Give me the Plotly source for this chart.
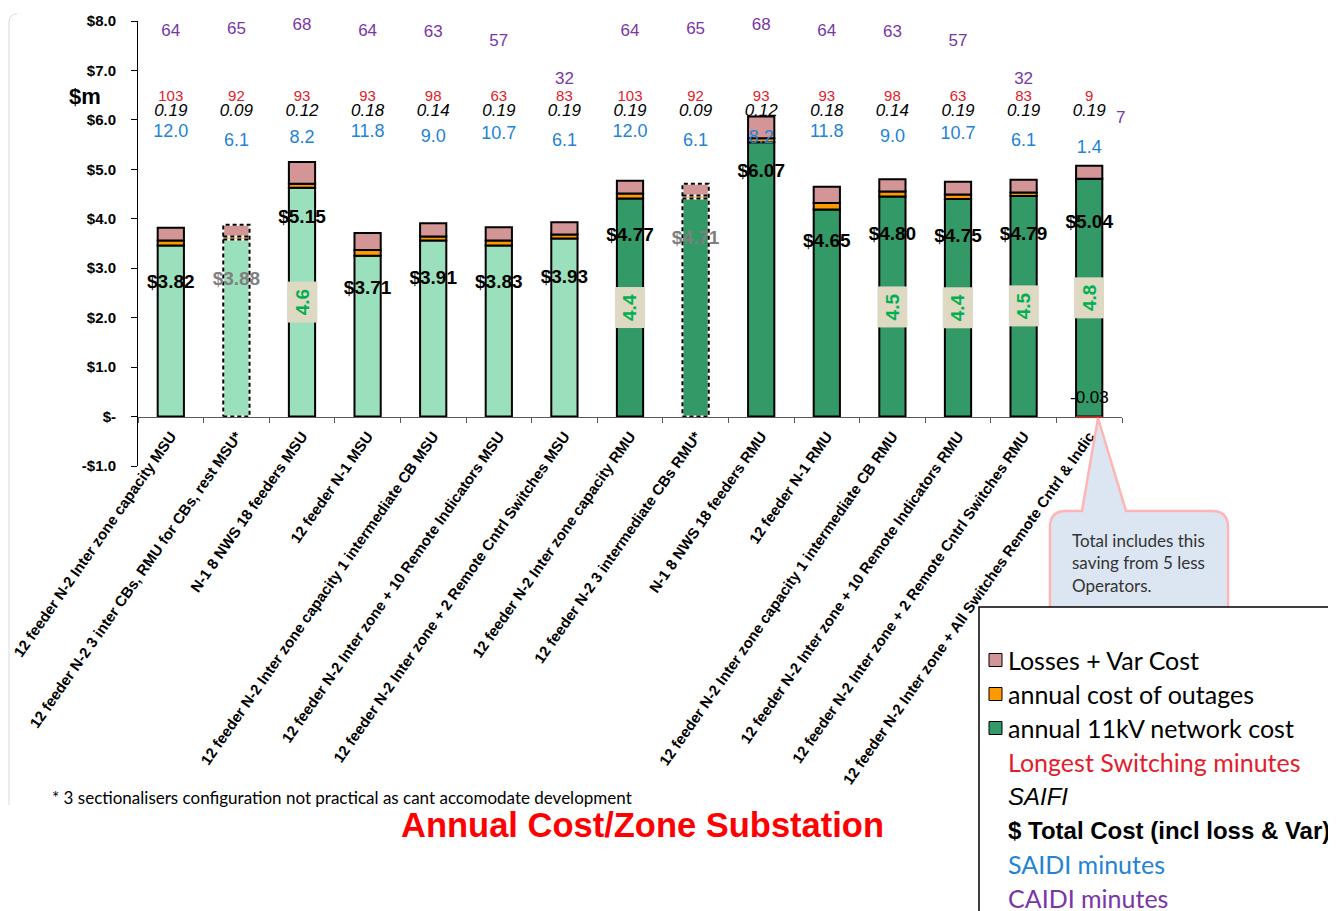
import plotly.graph_objects as go

# ---------------- data ----------------
categories = [
    "12 feeder N-2 Inter zone capacity MSU",
    "12 feeder N-2 3 inter CBs, RMU for CBs, rest MSU*",
    "N-1 8 NWS 18 feeders MSU",
    "12 feeder N-1 MSU",
    "12 feeder N-2 Inter zone capacity 1 intermediate CB MSU",
    "12 feeder N-2 Inter zone + 10 Remote Indicators MSU",
    "12 feeder N-2 Inter zone + 2 Remote Cntrl Switches MSU",
    "12 feeder N-2 Inter zone capacity RMU",
    "12 feeder N-2 3 intermediate CBs RMU*",
    "N-1 8 NWS 18 feeders RMU",
    "12 feeder N-1 RMU",
    "12 feeder N-2 Inter zone capacity 1 intermediate CB RMU",
    "12 feeder N-2 Inter zone + 10 Remote Indicators RMU",
    "12 feeder N-2 Inter zone + 2 Remote Cntrl Switches RMU",
    "12 feeder N-2 Inter zone + All Switches Remote Cntrl & Indic",
]
network_cost = [3.46, 3.58, 4.63, 3.25, 3.56, 3.46, 3.60, 4.41, 4.41, 5.55, 4.19, 4.45, 4.40, 4.46, 4.81]
outage_cost = [0.10, 0.06, 0.08, 0.12, 0.08, 0.10, 0.08, 0.10, 0.06, 0.08, 0.13, 0.10, 0.09, 0.07, 0.00]
losses_var = [0.26, 0.24, 0.44, 0.34, 0.27, 0.27, 0.25, 0.26, 0.24, 0.44, 0.33, 0.25, 0.26, 0.26, 0.26]
operator_saving = [0, 0, 0, 0, 0, 0, 0, 0, 0, 0, 0, 0, 0, 0, -0.03]
total_cost = [3.82, 3.88, 5.15, 3.71, 3.91, 3.83, 3.93, 4.77, 4.71, 6.07, 4.65, 4.80, 4.75, 4.79, 5.04]
switch_minutes = [103, 92, 93, 93, 98, 63, 83, 103, 92, 93, 93, 98, 63, 83, 9]
saifi = [0.19, 0.09, 0.12, 0.18, 0.14, 0.19, 0.19, 0.19, 0.09, 0.12, 0.18, 0.14, 0.19, 0.19, 0.19]
saidi = [12.0, 6.1, 8.2, 11.8, 9.0, 10.7, 6.1, 12.0, 6.1, 8.2, 11.8, 9.0, 10.7, 6.1, 1.4]
caidi = [64, 65, 68, 64, 63, 57, 32, 64, 65, 68, 64, 63, 57, 32, 7]
network_label = ["", "", "4.6", "", "", "", "", "4.4", "", "", "", "4.5", "4.4", "4.5", "4.8"]
impractical = [1, 8]          # dashed-outline configurations
rmu_start = 7                 # first RMU configuration
y_tickvals = [-1, 0, 1, 2, 3, 4, 5, 6, 7, 8]
y_ticktext = ["-$1.0", "$-", "$1.0", "$2.0", "$3.0", "$4.0", "$5.0", "$6.0", "$7.0", "$8.0"]

# ---------------- styles ----------------
LIGHT_GREEN = "#9be0bc"
DARK_GREEN = "#339966"
ORANGE = "#ff9900"
PINK = "#d39595"
RED = "#ff0000"
SW_RED = "#e3202a"
SAIDI_BLUE = "#2383d6"
CAIDI_PURPLE = "#7a35a8"
ARIAL = "Liberation Sans"
CALIBRI = "Lato"

PAGE_OFF = 8                      # default page body margin
FIG_W, FIG_H = 1336 - PAGE_OFF, 911 - PAGE_OFF
PLOT_L, PLOT_T, PLOT_R, PLOT_B = 138, 21, 1122, 466   # in page pixels
ML, MT = PLOT_L - PAGE_OFF, PLOT_T - PAGE_OFF
MR, MB = FIG_W + PAGE_OFF - PLOT_R, FIG_H + PAGE_OFF - PLOT_B
PW, PH = PLOT_R - PLOT_L, PLOT_B - PLOT_T
Y_MIN, Y_MAX = -1.0, 8.0
BAR_W = 0.4
ROW_SWITCH = 6.45
ROW_SAIFI = 6.16
CAIDI_RANGE = [-223.8, 70.9]
SAIDI_RANGE = [-208.8, 85.9]
TOTAL_SHIFT = 1.133


def pxx(px):
    return (px - PLOT_L) / PW


def pxy(py):
    return (PLOT_B - py) / PH


N = len(categories)
xs = list(range(N))
line_w = [0 if i in impractical else 2 for i in xs]
green_colors = [LIGHT_GREEN if i < rmu_start else DARK_GREEN for i in xs]

fig = go.Figure()
fig.add_bar(x=xs, y=network_cost, width=BAR_W, name="annual 11kV network cost",
            marker=dict(color=green_colors, line=dict(color="black", width=line_w)))
fig.add_bar(x=xs, y=outage_cost, width=BAR_W, name="annual cost of outages",
            marker=dict(color=ORANGE, line=dict(color="black", width=line_w)))
fig.add_bar(x=xs, y=losses_var, width=BAR_W, name="Losses + Var Cost",
            marker=dict(color=PINK, line=dict(color="black", width=line_w)))
fig.add_bar(x=xs, y=operator_saving, width=BAR_W, name="Operator saving",
            marker=dict(color=RED, line=dict(width=0)))

# dashed outlines for impractical configurations
ox, oy = [], []
for i in impractical:
    x0, x1 = i - BAR_W / 2, i + BAR_W / 2
    g = network_cost[i]
    go_ = g + outage_cost[i]
    top = go_ + losses_var[i]
    ox += [x0, x1, x1, x0, x0, None, x0, x1, None, x0, x1, None]
    oy += [0, 0, top, top, 0, None, g, g, None, go_, go_, None]
fig.add_scatter(x=ox, y=oy, mode="lines", line=dict(color="white", width=2), hoverinfo="skip")
fig.add_scatter(x=ox, y=oy, mode="lines", line=dict(color="black", width=2, dash="4px,3px"),
                hoverinfo="skip")

# text rows
fig.add_scatter(x=xs, y=[ROW_SWITCH] * N, mode="text", text=[str(v) for v in switch_minutes],
                textfont=dict(family=ARIAL, size=15, color=SW_RED), cliponaxis=False)
fig.add_scatter(x=xs, y=[ROW_SAIFI] * N, mode="text", text=[f"{v:.2f}" for v in saifi],
                textfont=dict(family=ARIAL, size=17, color="black", style="italic"),
                cliponaxis=False)
fig.add_scatter(x=xs, y=saidi, yaxis="y3", mode="text", text=[f"{v:.1f}" for v in saidi],
                textfont=dict(family=ARIAL, size=18, color=SAIDI_BLUE), cliponaxis=False)
fig.add_scatter(x=xs[:-1], y=caidi[:-1], yaxis="y2", mode="text",
                text=[str(v) for v in caidi[:-1]],
                textfont=dict(family=ARIAL, size=17, color=CAIDI_PURPLE), cliponaxis=False)
fig.add_scatter(x=xs, y=total_cost, yaxis="y4", mode="text",
                text=[f"${v:.2f}" for v in total_cost],
                textfont=dict(family=ARIAL, size=19, weight="bold",
                              color=["#7f7f7f" if i in impractical else "black" for i in xs]),
                cliponaxis=False)

annotations = []
# last CAIDI label sits to the right of its column
annotations.append(dict(x=xs[-1], y=caidi[-1], xref="x", yref="y2", text=str(caidi[-1]),
                        showarrow=False, xshift=31, xanchor="center", yanchor="middle",
                        font=dict(family=ARIAL, size=17, color=CAIDI_PURPLE)))
for i in xs:
    if operator_saving[i] != 0:
        annotations.append(dict(x=i, y=operator_saving[i], xref="x", yref="y",
                                text=f"{operator_saving[i]:.2f}", showarrow=False,
                                xanchor="center", yanchor="bottom", yshift=9,
                                font=dict(family=ARIAL, size=17, color="black")))
for i in xs:
    if network_label[i]:
        annotations.append(dict(x=i, y=network_cost[i] / 2, xref="x", yref="y",
                                text=f"<b>{network_label[i]}</b>", textangle=-90,
                                showarrow=False, bgcolor="#ddd9c3", width=38, height=27,
                                font=dict(family=ARIAL, size=19, color="#00b050")))


def paper_text(px, py, text, font, xanchor="center"):
    return dict(x=pxx(px), y=pxy(py), xref="paper", yref="paper", text=text,
                showarrow=False, xanchor=xanchor, yanchor="middle", font=font)


annotations += [
    paper_text(85, 97, "<b>$m</b>", dict(family=ARIAL, size=22, color="black")),
    paper_text(642, 825, "<b>Annual Cost/Zone Substation</b>",
               dict(family=ARIAL, size=34.5, color="#ff0000")),
    paper_text(50, 797, "* 3 sectionalisers configuration not practical as cant accomodate development",
               dict(family=CALIBRI, size=17, color="black"), xanchor="left"),
]
for k, line in enumerate(["Total includes this", "saving from 5 less", "Operators."]):
    annotations.append(paper_text(1070, 540 + 22.5 * k, line,
                                  dict(family=CALIBRI, size=17, color="#333333"), xanchor="left"))

legend_items = [
    ("Losses + Var Cost", PINK, dict(family=CALIBRI, size=25, color="black")),
    ("annual cost of outages", ORANGE, dict(family=CALIBRI, size=25, color="black")),
    ("annual 11kV network cost", DARK_GREEN, dict(family=CALIBRI, size=25, color="black")),
    ("Longest Switching minutes", None, dict(family=CALIBRI, size=25, color=SW_RED)),
    ("<i>SAIFI</i>", None, dict(family=ARIAL, size=24, color="black")),
    ("<b>$ Total Cost (incl loss & Var)</b>", None, dict(family=ARIAL, size=24, color="black")),
    ("SAIDI minutes", None, dict(family=CALIBRI, size=25, color=SAIDI_BLUE)),
    ("CAIDI minutes", None, dict(family=CALIBRI, size=25, color=CAIDI_PURPLE)),
]

shapes = []
# chart area border (left edge with rounded corner)
shapes.append(dict(type="path", xref="paper", yref="paper", layer="below",
                   path=f"M {pxx(9)},{pxy(805)} L {pxx(9)},{pxy(22)} Q {pxx(9)},{pxy(14)} {pxx(17)},{pxy(14)}",
                   line=dict(color="#d9d9d9", width=1)))
# callout
L_, R_, T_, B_, r = 1050, 1228, 511, 650, 16
pts = (f"M {pxx(L_ + r)},{pxy(T_)} L {pxx(1082)},{pxy(T_)} L {pxx(1098)},{pxy(418)} "
       f"L {pxx(1126)},{pxy(T_)} L {pxx(R_ - r)},{pxy(T_)} Q {pxx(R_)},{pxy(T_)} {pxx(R_)},{pxy(T_ + r)} "
       f"L {pxx(R_)},{pxy(B_)} L {pxx(L_)},{pxy(B_)} L {pxx(L_)},{pxy(T_ + r)} "
       f"Q {pxx(L_)},{pxy(T_)} {pxx(L_ + r)},{pxy(T_)} Z")
shapes.append(dict(type="path", xref="paper", yref="paper", layer="above", path=pts,
                   fillcolor="#dce6f2", line=dict(color="#ffb5b5", width=2.5)))
# legend box
shapes.append(dict(type="rect", xref="paper", yref="paper", layer="above",
                   x0=pxx(979), x1=pxx(1345), y0=pxy(607), y1=pxy(925),
                   fillcolor="white", line=dict(color="black", width=1.5)))
for k, (label, color, font) in enumerate(legend_items):
    yc = 660 + 34 * k
    if color:
        shapes.append(dict(type="rect", xref="paper", yref="paper", layer="above",
                           x0=pxx(989), x1=pxx(1002), y0=pxy(yc - 6.5), y1=pxy(yc + 6.5),
                           fillcolor=color, line=dict(color="black", width=1)))
    annotations.append(paper_text(1006, yc, label, font, xanchor="left"))

fig.update_layout(
    width=FIG_W, height=FIG_H, autosize=False,
    margin=dict(l=ML, r=MR, t=MT, b=MB, autoexpand=False),
    paper_bgcolor="white", plot_bgcolor="white",
    barmode="relative", showlegend=False,
    font=dict(family=ARIAL, color="black"),
    xaxis=dict(type="linear", range=[-0.5, N - 0.5], anchor="free",
               position=(0 - Y_MIN) / (Y_MAX - Y_MIN),
               tickmode="array", tickvals=xs, ticktext=categories, ticks="",
               tickangle=-55, ticklabelstandoff=4, ticklabeloverflow="allow",
               tickfont=dict(family=ARIAL, size=15, weight="bold", color="black"),
               showline=True, linecolor="#595959", linewidth=1, showgrid=False, zeroline=False,
               minor=dict(tickmode="array", tickvals=[i - 0.5 for i in range(N + 1)],
                          ticks="outside", ticklen=5, tickcolor="#595959", showgrid=False),
               automargin=False),
    yaxis=dict(range=[Y_MIN, Y_MAX], tickmode="array", tickvals=y_tickvals, ticktext=y_ticktext,
               ticks="outside", ticklen=6, tickcolor="black", showline=True, linecolor="black",
               linewidth=1, showgrid=False, zeroline=False, automargin=False,
               ticklabelstandoff=12,
               tickfont=dict(family=ARIAL, size=15, weight="bold", color="black")),
    yaxis2=dict(range=CAIDI_RANGE, overlaying="y", visible=False, anchor="x"),
    yaxis3=dict(range=SAIDI_RANGE, overlaying="y", visible=False, anchor="x"),
    yaxis4=dict(range=[Y_MIN + TOTAL_SHIFT, Y_MAX + TOTAL_SHIFT], overlaying="y",
                visible=False, anchor="x"),
    annotations=annotations,
    shapes=shapes,
)

fig.write_html("out.html")
